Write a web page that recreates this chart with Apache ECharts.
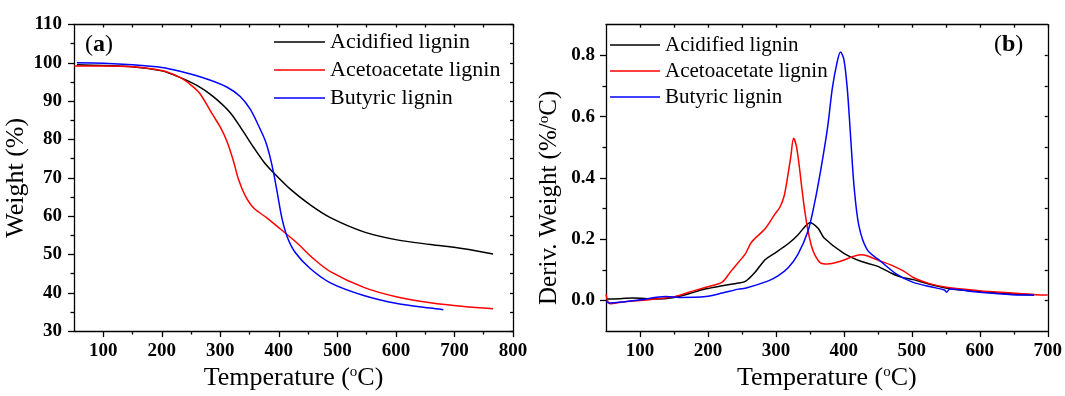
<!DOCTYPE html>
<html><head><meta charset="utf-8">
<script src="https://cdn.jsdelivr.net/npm/echarts@6/dist/echarts.min.js"></script>
<style>html,body{margin:0;padding:0;background:#fff}#c{width:1065px;height:396px}</style>
</head><body><div id="c"></div>
<script>
// ---------- data ----------
const seriesNames = ['Acidified lignin', 'Acetoacetate lignin', 'Butyric lignin'];
const seriesColors = ['#000000', '#ff0000', '#0000ff'];

// (a) TGA: temperature (°C) and weight (%)
const tgaT_acid = [55,100,150,200,231,260,288,317,339,357,374,391,419,453,488,545,602,659,716,766];
const tgaW_acid = [99.5,99.3,99.0,97.9,96.2,94.1,91.2,87.0,82.1,77.9,74.2,71.3,67.1,63.0,59.6,55.9,53.8,52.6,51.5,50.1];
const tgaT_aceto = [50,100,150,200,231,250,265,288,300,311,322,331,342,357,379,402,431,459,488,545,602,659,716,766];
const tgaW_aceto = [99.2,99.2,99.0,98.0,96.2,94.2,92.0,86.2,83.2,79.6,74.6,69.6,65.5,62.1,59.6,56.7,53.0,48.9,45.5,41.4,38.9,37.4,36.4,35.8];
const tgaT_buty = [55,100,150,200,231,277,311,334,351,365,377,385,391,398,405,414,428,453,488,545,602,659,681];
const tgaW_buty = [100.0,99.9,99.5,98.8,97.8,95.8,93.7,91.2,87.9,83.7,79.6,75.4,71.3,65.5,59.6,54.7,50.5,46.4,42.6,39.3,37.2,36.0,35.6];

// (b) DTG: temperature (°C) and deriv. weight (%/°C)
const dtgT_acid = [50,60,89,124,150,172,197,221,245,255,269,284,298,318,332,342,350,362,371,400,425,449,468,483,502,526,560,599,648,680];
const dtgV_acid = [0.005,0.005,0.008,0.005,0.010,0.022,0.038,0.048,0.057,0.062,0.091,0.133,0.154,0.185,0.213,0.239,0.254,0.236,0.204,0.154,0.128,0.112,0.091,0.077,0.068,0.053,0.037,0.029,0.021,0.018];
const dtgT_aceto = [50,56,75,100,148,172,197,221,232,245,255,264,284,298,306,312,317,322,326,330,334,338,342,347,352,357,366,376,395,425,434,454,468,488,502,526,551,599,648,682,700];
const dtgV_aceto = [0.021,-0.011,-0.005,0.0,0.011,0.027,0.043,0.060,0.090,0.125,0.152,0.190,0.234,0.280,0.305,0.340,0.400,0.470,0.529,0.505,0.445,0.370,0.300,0.230,0.180,0.150,0.122,0.119,0.128,0.149,0.146,0.128,0.117,0.096,0.075,0.055,0.043,0.032,0.024,0.019,0.018];
const dtgT_buty = [50,56,100,138,158,197,221,245,255,289,303,318,332,347,357,366,376,383,390,395,400,405,410,415,422,434,454,478,502,531,548,551,556,599,648,680];
const dtgV_buty = [-0.005,-0.008,0.002,0.013,0.010,0.013,0.024,0.037,0.040,0.064,0.080,0.107,0.149,0.225,0.319,0.426,0.564,0.692,0.777,0.811,0.787,0.692,0.532,0.372,0.245,0.167,0.128,0.085,0.059,0.043,0.034,0.027,0.037,0.027,0.019,0.018];

// tick labels
const aXMajor = [100,200,300,400,500,600,700,800];
const aXMinor = [150,250,350,450,550,650,750];
const bXMajor = [100,200,300,400,500,600,700];
const bXMinor = [150,250,350,450,550,650];
const bYMajor = [0,0.2,0.4,0.6,0.8];
const bYMinor = [0.1,0.3,0.5,0.7];
const bYAll = [0,0.1,0.2,0.3,0.4,0.5,0.6,0.7,0.8];

// ---------- chart ----------
const zip = (a, b) => a.map((v, i) => [v, b[i]]);
const SERIF = '"Liberation Serif", "Times New Roman", serif';
const lineW = 1.3;
const axisLine = {show: true, onZero: false, lineStyle: {color: '#000', width: lineW}};
const noLine = {show: false, onZero: false};
const labelStyle = {fontFamily: SERIF, fontWeight: 'bold', fontSize: 19, color: '#000'};
const nameStyle = (extra) => Object.assign({
  fontFamily: SERIF, fontSize: 26, color: '#000',
  rich: {s: {fontFamily: SERIF, fontSize: 15, color: '#000', verticalAlign: 'top'}}
}, extra || {});

function axis(o) {
  return Object.assign({
    type: 'value', splitLine: {show: false}, axisLine: noLine,
    axisLabel: {show: false}, axisTick: {show: false}
  }, o);
}

const xAxes = [
  // panel a
  axis({gridIndex: 0, position: 'bottom', min: 50, max: 800, axisLine: axisLine,
    axisTick: {show: true, inside: false, length: 6, customValues: aXMajor, lineStyle: {color: '#000', width: lineW}},
    axisLabel: Object.assign({show: true, margin: 10, customValues: aXMajor}, labelStyle),
    name: 'Temperature ({s|o}C)', nameLocation: 'middle', nameGap: 25, nameTextStyle: nameStyle()}),
  axis({gridIndex: 0, position: 'bottom', min: 50, max: 800,
    axisTick: {show: true, inside: false, length: 3.5, customValues: aXMinor, lineStyle: {color: '#000', width: lineW}}}),
  axis({gridIndex: 0, position: 'top', min: 50, max: 800, axisLine: axisLine,
    axisTick: {show: true, inside: true, length: 3, customValues: aXMajor.concat(aXMinor), lineStyle: {color: '#000', width: lineW}}}),
  // panel b
  axis({gridIndex: 1, position: 'bottom', min: 50, max: 700, axisLine: axisLine,
    axisTick: {show: true, inside: false, length: 6, customValues: bXMajor, lineStyle: {color: '#000', width: lineW}},
    axisLabel: Object.assign({show: true, margin: 10, customValues: bXMajor}, labelStyle),
    name: 'Temperature ({s|o}C)', nameLocation: 'middle', nameGap: 25, nameTextStyle: nameStyle()}),
  axis({gridIndex: 1, position: 'bottom', min: 50, max: 700,
    axisTick: {show: true, inside: false, length: 3.5, customValues: bXMinor, lineStyle: {color: '#000', width: lineW}}}),
  axis({gridIndex: 1, position: 'top', min: 50, max: 700, axisLine: axisLine,
    axisTick: {show: true, inside: true, length: 3, customValues: bXMajor.concat(bXMinor), lineStyle: {color: '#000', width: lineW}}})
];

const yAxes = [
  // panel a
  axis({gridIndex: 0, position: 'left', min: 30, max: 110, interval: 10, axisLine: axisLine,
    axisTick: {show: true, inside: false, length: 6, lineStyle: {color: '#000', width: lineW}},
    minorTick: {show: true, splitNumber: 2, length: 3.5, lineStyle: {color: '#000', width: lineW}},
    axisLabel: Object.assign({show: true, margin: 12}, labelStyle),
    name: 'Weight (%)', nameLocation: 'middle', nameGap: 38, nameTextStyle: nameStyle()}),
  axis({gridIndex: 0, position: 'right', min: 30, max: 110, interval: 5, axisLine: axisLine,
    axisTick: {show: true, inside: true, length: 3, lineStyle: {color: '#000', width: lineW}}}),
  // panel b
  axis({gridIndex: 1, position: 'left', min: -0.1, max: 0.9, axisLine: axisLine,
    axisTick: {show: true, inside: false, length: 6, customValues: bYMajor, lineStyle: {color: '#000', width: lineW}},
    axisLabel: Object.assign({show: true, margin: 11, customValues: bYMajor, formatter: v => v.toFixed(1)}, labelStyle),
    name: 'Deriv. Weight (%/{s|o}C)', nameLocation: 'middle', nameGap: 44,
    nameTextStyle: nameStyle({fontSize: 25, padding: [0, 40, 0, 0]})}),
  axis({gridIndex: 1, position: 'left', min: -0.1, max: 0.9,
    axisTick: {show: true, inside: false, length: 3.5, customValues: bYMinor, lineStyle: {color: '#000', width: lineW}}}),
  axis({gridIndex: 1, position: 'right', min: -0.1, max: 0.9, axisLine: axisLine,
    axisTick: {show: true, inside: true, length: 3, customValues: bYAll, lineStyle: {color: '#000', width: lineW}}})
];

function mkSeries(name, color, data, xi, yi) {
  return {type: 'line', name: name, data: data, xAxisIndex: xi, yAxisIndex: yi,
    showSymbol: false, symbol: 'none', smooth: 0.3,
    lineStyle: {color: color, width: 1.5}, itemStyle: {color: color}, z: 3};
}

const series = [
  mkSeries(seriesNames[0], seriesColors[0], zip(tgaT_acid, tgaW_acid), 0, 0),
  mkSeries(seriesNames[1], seriesColors[1], zip(tgaT_aceto, tgaW_aceto), 0, 0),
  mkSeries(seriesNames[2], seriesColors[2], zip(tgaT_buty, tgaW_buty), 0, 0),
  mkSeries(seriesNames[0], seriesColors[0], zip(dtgT_acid, dtgV_acid), 3, 2),
  mkSeries(seriesNames[1], seriesColors[1], zip(dtgT_aceto, dtgV_aceto), 3, 2),
  mkSeries(seriesNames[2], seriesColors[2], zip(dtgT_buty, dtgV_buty), 3, 2)
];

const legendBase = {orient: 'vertical', icon: 'rect', itemHeight: 1.6, padding: 0,
  data: seriesNames, selectedMode: false};

const option = {
  animation: false,
  backgroundColor: '#fff',
  grid: [
    {left: 74, top: 24.5, width: 439, height: 321.2},
    {left: 606, top: 24.7, width: 446.5, height: 313.6}
  ],
  xAxis: xAxes,
  yAxis: yAxes,
  legend: [
    Object.assign({left: 274, top: 31, itemWidth: 51, itemGap: 6,
      textStyle: {fontFamily: SERIF, fontSize: 22, color: '#000'}}, legendBase),
    Object.assign({left: 610, top: 34.5, itemWidth: 50, itemGap: 5,
      textStyle: {fontFamily: SERIF, fontSize: 21, color: '#000'}}, legendBase)
  ],
  graphic: [
    {type: 'text', left: 85, top: 33, style: {text: '({b|a})', fontFamily: SERIF, fontSize: 24, fill: '#000',
      rich: {b: {fontFamily: SERIF, fontSize: 24, fontWeight: 'bold', fill: '#000'}}}},
    {type: 'text', left: 994, top: 33, style: {text: '({b|b})', fontFamily: SERIF, fontSize: 24, fill: '#000',
      rich: {b: {fontFamily: SERIF, fontSize: 24, fontWeight: 'bold', fill: '#000'}}}}
  ],
  series: series
};

const chart = echarts.init(document.getElementById('c'), null, {renderer: 'canvas'});
chart.setOption(option);
</script>
</body></html>
